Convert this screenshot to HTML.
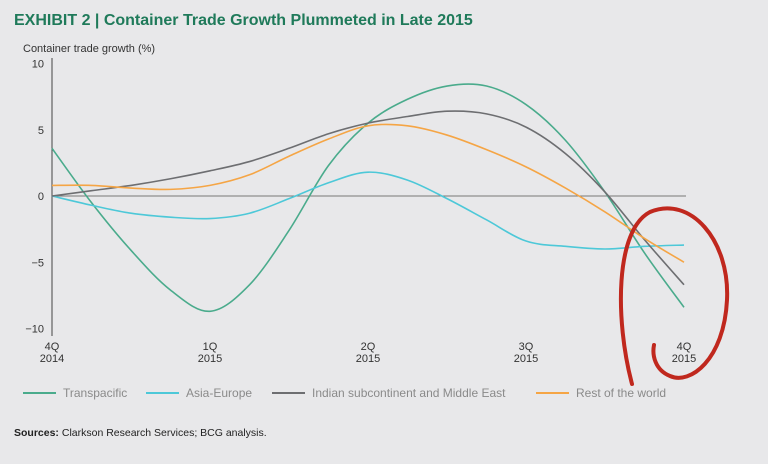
<!DOCTYPE html>
<html><head><meta charset="utf-8"><style>
body{margin:0;background:#e8e8ea;font-family:"Liberation Sans",sans-serif;}
svg{display:block}
</style></head><body>
<svg id="c" width="768" height="464">
<text x="14" y="25" font-size="16" font-weight="bold" fill="#1f7a5a">EXHIBIT 2 | Container Trade Growth Plummeted in Late 2015</text>
<text x="23" y="52" font-size="11" fill="#333">Container trade growth (%)</text>
<text x="14" y="436" font-size="10.5" fill="#222"><tspan font-weight="bold">Sources:</tspan> Clarkson Research Services; BCG analysis.</text>
<g id="g"></g>
</svg>
<script>
const xLabels=[["4Q","2014"],["1Q","2015"],["2Q","2015"],["3Q","2015"],["4Q","2015"]];
const yTicks=[10,5,0,-5,-10];
const steps=[0,0.25,0.5,0.75,1,1.25,1.5,1.75,2,2.25,2.5,2.75,3,3.25,3.5,3.75,4];
const transpacific=[3.6,-0.5,-4.1,-7.1,-8.7,-6.7,-2.6,2.3,5.5,7.3,8.3,8.3,6.9,4.2,0.3,-4.3,-8.4];
const asiaEurope=[0,-0.7,-1.3,-1.6,-1.7,-1.3,-0.2,1.0,1.8,1.2,-0.2,-1.8,-3.4,-3.8,-4.0,-3.8,-3.7];
const indian=[0,0.4,0.8,1.3,1.9,2.6,3.6,4.7,5.5,6.0,6.4,6.2,5.2,3.2,0.3,-3.3,-6.7];
const restWorld=[0.8,0.8,0.6,0.5,0.8,1.6,3.0,4.3,5.3,5.3,4.6,3.5,2.2,0.6,-1.2,-3.2,-5.0];
const seriesNames=["Transpacific","Asia-Europe","Indian subcontinent and Middle East","Rest of the world"];
const NS="http://www.w3.org/2000/svg",g=document.getElementById('g');
const X=v=>52+v*158,Y=v=>196-v*13.25;
function el(t,a,txt){const e=document.createElementNS(NS,t);for(const k in a)e.setAttribute(k,a[k]);if(txt!=null)e.textContent=txt;g.appendChild(e);return e;}
let e=el('line',{x1:52,y1:58,x2:52,y2:336,stroke:'#444','stroke-width':1});


e=el('line',{x1:52,y1:Y(0),x2:686,y2:Y(0),stroke:'#777','stroke-width':1});


yTicks.forEach(t=>{const s=el('text',{x:44,y:Y(t)+4,'font-size':11,fill:'#333','text-anchor':'end'},t<0?'\u2212'+(-t):t);

});
xLabels.forEach((l,i)=>{const s=el('text',{x:X(i),y:350,'font-size':11,fill:'#333','text-anchor':'middle'});


[0,1].forEach(j=>{const ts=document.createElementNS(NS,'tspan');ts.setAttribute('x',X(i));ts.setAttribute('dy',j?12:0);ts.textContent=l[j];s.appendChild(ts);});});
function path(vals){const p=steps.map((s,i)=>[X(s),Y(vals[i])]);let d='M'+p[0];for(let i=0;i<p.length-1;i++){const a=p[i-1]||p[i],b=p[i],c=p[i+1],n=p[i+2]||c;d+=` C${b[0]+(c[0]-a[0])/6},${b[1]+(c[1]-a[1])/6} ${c[0]-(n[0]-b[0])/6},${c[1]-(n[1]-b[1])/6} ${c[0]},${c[1]}`;}return d;}
const cols=['#4aab8c','#4dc8d8','#6d6e71','#f5a545'];
[transpacific,asiaEurope,indian,restWorld].forEach((v,i)=>{const p=el('path',{d:path(v),fill:'none',stroke:cols[i],'stroke-width':1.6});

});
const lx=[23,146,272,536];
seriesNames.forEach((n,i)=>{const l=el('line',{x1:lx[i],y1:393,x2:lx[i]+33,y2:393,stroke:cols[i],'stroke-width':2});


const t=el('text',{x:lx[i]+40,y:397,'font-size':12,fill:'#8a8a8a'},n);

});
e=el('path',{d:'M632,384 C615,320 615,230 650,212 C690,195 730,240 727,300 C724,360 690,385 670,376 C655,370 652,355 654,345',fill:'none',stroke:'#c0281e','stroke-width':4,'stroke-linecap':'round'});


</script>
</body></html>
